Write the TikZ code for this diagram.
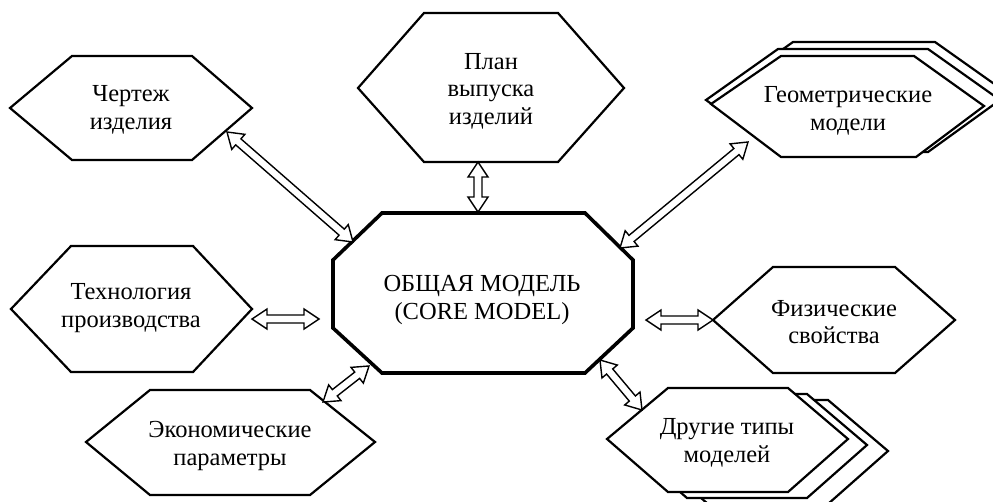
\documentclass[tikz,border=0pt]{standalone}
\usepackage{fontspec}
\setmainfont{Liberation Serif}
\usetikzlibrary{calc}
\tikzset{
  hex/.style={draw, line width=2.2pt, fill=white, line join=miter},
  corebox/.style={draw, line width=3.6pt, fill=white, line join=miter},
  lbl/.style={align=center, font=\fontsize{24.5}{27.5}\selectfont, inner sep=0pt},
  blockarrow/.style={draw, line width=1.4pt, fill=white, line join=miter},
}
\newcommand\dblarr[2]{%
  \draw[blockarrow] (#1)
    -- ($(#1)!18.03pt!33.69:(#2)$)
    -- ($(#1)!15.52pt!14.93:(#2)$)
    -- ($(#2)!15.52pt!-14.93:(#1)$)
    -- ($(#2)!18.03pt!-33.69:(#1)$)
    -- (#2)
    -- ($(#2)!18.03pt!33.69:(#1)$)
    -- ($(#2)!15.52pt!14.93:(#1)$)
    -- ($(#1)!15.52pt!-14.93:(#2)$)
    -- ($(#1)!18.03pt!-33.69:(#2)$)
    -- cycle;}
\begin{document}
\begin{tikzpicture}[x=1pt,y=-1pt]
\clip (0,0) rectangle (993,501);
\fill[white] (0,0) rectangle (993,501);

% core octagon
\draw[corebox] (382,213) -- (585,213) -- (633,260) -- (633,328) -- (585,373)
  -- (382,373) -- (333,328) -- (333,260) -- cycle;
\node[lbl] (core) at (482,300) {ОБЩАЯ МОДЕЛЬ\\(CORE MODEL)};

% Чертеж изделия
\draw[hex] (10,108) -- (72,56) -- (192,56) -- (252,108) -- (192,160) -- (72,160) -- cycle;
\node[lbl] (drw) at (131,110) {Чертеж\\изделия};

% План выпуска изделий
\draw[hex] (358,88) -- (424,13) -- (558,13) -- (624,88) -- (558,162) -- (424,162) -- cycle;
\node[lbl] (plan) at (491,91) {План\\выпуска\\изделий};

% Геометрические модели (stack)
\draw[hex] (721,93) -- (793,42) -- (935,42) -- (1007,93) -- (935,145) -- (793,145) -- cycle;
\draw[hex] (706,100) -- (778,49) -- (928,49) -- (1000,100) -- (928,152) -- (778,152) -- cycle;
\draw[hex] (711,104) -- (781,56) -- (914,56) -- (984,106) -- (916,157) -- (781,157) -- cycle;
\node[lbl] (geo) at (848,111) {Геометрические\\модели};

% Технология производства
\draw[hex] (11,309) -- (71,246) -- (193,246) -- (252,309) -- (193,372) -- (71,372) -- cycle;
\node[lbl] (tech) at (131,308) {Технология\\производства};

% Физические свойства
\draw[hex] (713,320) -- (773,267) -- (895,267) -- (955,320) -- (895,373) -- (773,373) -- cycle;
\node[lbl] (phys) at (834,322) {Физические\\свойства};

% Экономические параметры
\draw[hex] (86,442) -- (150,390) -- (310,390) -- (375,442) -- (310,495) -- (150,495) -- cycle;
\node[lbl] (econ) at (230,446) {Экономические\\параметры};

% Другие типы моделей (stack)
\draw[hex] (647,451) -- (708,400) -- (828,400) -- (888,451) -- (828,504) -- (708,504) -- cycle;
\draw[hex] (626,445) -- (687,394) -- (807,394) -- (867,445) -- (807,498) -- (687,498) -- cycle;
\draw[hex] (607,439) -- (668,388) -- (788,388) -- (848,439) -- (788,492) -- (668,492) -- cycle;
\node[lbl] (other) at (727,443) {Другие типы\\моделей};

% connector end points
\coordinate (drwE) at (227,132);   \coordinate (coreNW) at (353,242);
\coordinate (planE) at (478,162);  \coordinate (coreN) at (478,212);
\coordinate (geoE) at (748,142);   \coordinate (coreNE) at (620,248);
\coordinate (techE) at (252,319);  \coordinate (coreW) at (319,319);
\coordinate (physE) at (713,320);  \coordinate (coreE) at (646,320);
\coordinate (econE) at (323,402);  \coordinate (coreSW) at (369,366);
\coordinate (otherE) at (642,410); \coordinate (coreSE) at (600,360);

\dblarr{drwE}{coreNW}
\dblarr{planE}{coreN}
\dblarr{geoE}{coreNE}
\dblarr{techE}{coreW}
\dblarr{physE}{coreE}
\dblarr{econE}{coreSW}
\dblarr{otherE}{coreSE}
\end{tikzpicture}
\end{document}
